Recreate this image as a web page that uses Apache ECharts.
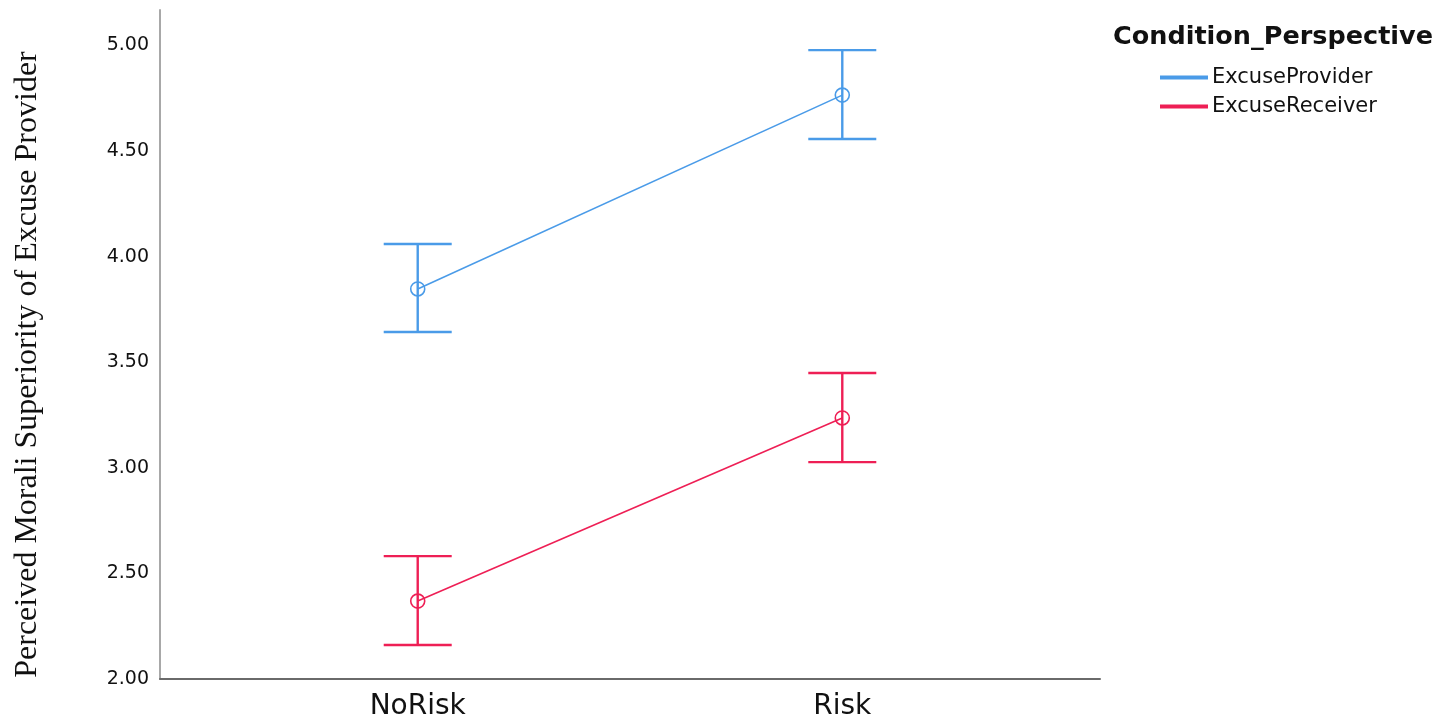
<!DOCTYPE html>
<html>
<head>
<meta charset="utf-8">
<script src="https://cdn.jsdelivr.net/npm/echarts@6/dist/echarts.min.js"></script>
<style>
  html, body { margin: 0; padding: 0; background: #fff; }
  #chart { width: 1447px; height: 723px; }
</style>
</head>
<body>
<div id="chart"></div>
<script>
// Categories on the x axis (placed at positions 1 and 2)
const categories = ['NoRisk', 'Risk'];
const seriesNames = ['ExcuseProvider', 'ExcuseReceiver'];

// Group means
const providerMean = [3.847, 4.765];
const receiverMean = [2.369, 3.236];

// Error bar bounds (lower / upper)
const providerLow  = [3.643, 4.557];
const providerHigh = [4.060, 4.978];
const receiverLow  = [2.161, 3.027];
const receiverHigh = [2.582, 3.449];

// y-axis tick labels
const yTicks = ['2.00', '2.50', '3.00', '3.50', '4.00', '4.50', '5.00'];

const BLUE = '#4a9be8';
const RED = '#ee1f55';

function meanData(means) {
  return means.map((v, i) => [i + 1, v]);
}
function barData(lows, highs) {
  return lows.map((v, i) => [i + 1, v, highs[i]]);
}

function errorBarSeries(name, data, color) {
  return {
    type: 'custom',
    name: name + ' CI',
    data: data,
    encode: { x: 0, y: [1, 2] },
    z: 2,
    silent: true,
    renderItem: function (params, api) {
      const x = api.value(0);
      const lo = api.coord([x, api.value(1)]);
      const hi = api.coord([x, api.value(2)]);
      const half = 34;
      const style = { stroke: color, lineWidth: 2.4, fill: null };
      return {
        type: 'group',
        children: [
          { type: 'line', shape: { x1: lo[0], y1: lo[1], x2: hi[0], y2: hi[1] }, style: style },
          { type: 'line', shape: { x1: hi[0] - half, y1: hi[1], x2: hi[0] + half, y2: hi[1] }, style: style },
          { type: 'line', shape: { x1: lo[0] - half, y1: lo[1], x2: lo[0] + half, y2: lo[1] }, style: style }
        ]
      };
    }
  };
}

function meanSeries(name, data, color) {
  return {
    type: 'line',
    name: name,
    data: data,
    z: 3,
    symbol: 'circle',
    symbolSize: 14,
    lineStyle: { color: color, width: 1.6 },
    itemStyle: { color: 'rgba(255,255,255,0)', borderColor: color, borderWidth: 1.6 },
    emphasis: { disabled: true }
  };
}

const chart = echarts.init(document.getElementById('chart'));
chart.setOption({
  animation: false,
  backgroundColor: '#ffffff',
  title: {
    text: 'Condition_Perspective',
    left: 1108,
    top: 19,
    textStyle: { fontFamily: 'DejaVu Sans', fontWeight: 'bold', fontSize: 25.5, color: '#111' }
  },
  legend: {
    orient: 'vertical',
    left: 1155,
    top: 62,
    itemWidth: 46,
    itemHeight: 2,
    itemGap: 8,
    icon: 'rect',
    textStyle: { fontFamily: 'DejaVu Sans', fontSize: 21, color: '#111', padding: [0, 0, 0, 0] },
    data: [
      { name: seriesNames[0], itemStyle: { color: BLUE } },
      { name: seriesNames[1], itemStyle: { color: RED } }
    ]
  },
  grid: { left: 160, right: 347, top: 10, bottom: 44, containLabel: false },
  xAxis: {
    type: 'value',
    min: 0.393,
    max: 2.607,
    splitLine: { show: false },
    axisTick: { show: false },
    axisLine: { show: true, lineStyle: { color: '#6a6a6a', width: 2 } },
    axisLabel: {
      showMinLabel: false,
      showMaxLabel: false,
      margin: 14,
      fontFamily: 'DejaVu Sans',
      fontSize: 28,
      color: '#111',
      formatter: function (v) {
        const i = Math.round(v);
        return Math.abs(v - i) < 1e-6 && i >= 1 && i <= categories.length ? categories[i - 1] : '';
      }
    }
  },
  yAxis: {
    type: 'value',
    min: 2,
    max: 5.168,
    interval: 0.5,
    name: 'Perceived Morali Superiority of Excuse Provider',
    nameLocation: 'middle',
    nameGap: 116,
    nameTextStyle: { fontFamily: 'Liberation Serif', fontSize: 32, color: '#111', padding: [0, 40, 0, 0] },
    splitLine: { show: false },
    axisTick: { show: false },
    axisLine: { show: true, lineStyle: { color: '#a8a8a8', width: 2 } },
    axisLabel: {
      showMaxLabel: false,
      margin: 11,
      fontFamily: 'DejaVu Sans',
      fontSize: 19,
      color: '#111',
      formatter: function (v) {
        const idx = Math.round((v - 2) / 0.5);
        return yTicks[idx] !== undefined && Math.abs(v - (2 + idx * 0.5)) < 1e-6 ? yTicks[idx] : '';
      }
    }
  },
  series: [
    errorBarSeries(seriesNames[0], barData(providerLow, providerHigh), BLUE),
    errorBarSeries(seriesNames[1], barData(receiverLow, receiverHigh), RED),
    meanSeries(seriesNames[0], meanData(providerMean), BLUE),
    meanSeries(seriesNames[1], meanData(receiverMean), RED)
  ]
});
</script>
</body>
</html>
